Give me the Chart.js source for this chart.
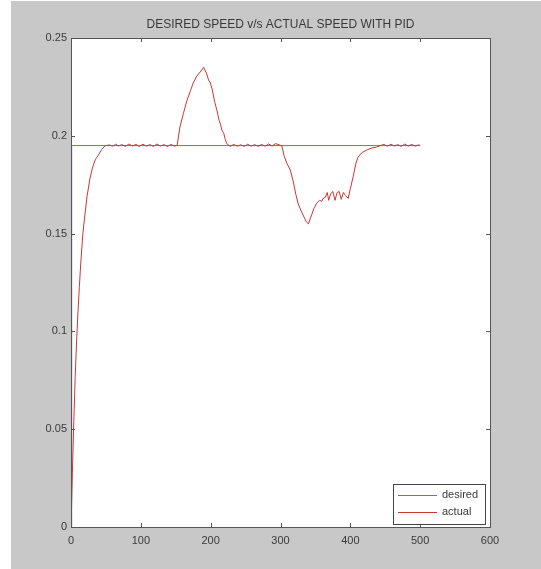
<!DOCTYPE html>
<html>
<head>
<meta charset="utf-8">
<script src="https://cdn.jsdelivr.net/npm/chart.js@4/dist/chart.umd.min.js"></script>
<style>
  html, body { margin: 0; padding: 0; background: #fff; }
  #wrap { width: 541px; height: 569px; }
</style>
</head>
<body>
<div id="wrap"><canvas id="speedChart" width="541" height="569"></canvas></div>
<script>
// axis ticks
const xTicks = [0, 100, 200, 300, 400, 500, 600];
const yTicks = [0, 0.05, 0.1, 0.15, 0.2, 0.25];
const chartTitle = 'DESIRED SPEED v/s ACTUAL SPEED WITH PID';

// desired speed (step)
const desiredT = [0, 1, 500];
const desiredV = [0, 0.195, 0.195];

// actual speed
const actualT = [
  0, 2, 4, 6, 8, 10, 12, 14, 17, 20, 23, 27, 31, 35, 39, 44, 49,
  55, 60, 64, 68, 73, 78, 83, 88, 93, 98, 103, 108, 113, 118, 123, 128, 133, 138, 143, 148, 152,
  156, 161, 166, 171, 175, 180, 185, 190, 194, 197, 199, 202, 206, 209, 212, 214, 216, 219, 221, 223,
  228, 233, 238, 243, 248, 253, 258, 263, 268, 273, 278, 283, 288, 293, 298, 302,
  305, 309, 314, 318, 322, 325, 329, 333, 337, 340, 344, 348, 352, 356, 359, 361, 364, 367, 369,
  372, 375, 378, 381, 384, 387, 390, 393, 397,
  400, 404, 408, 411, 414, 418, 424, 431, 437, 443, 448, 453, 458, 463, 468, 473, 478, 483, 488, 493, 498, 500
];
const actualV = [
  0, 0.028, 0.054, 0.077, 0.095, 0.11, 0.123, 0.135, 0.15, 0.16, 0.169, 0.178, 0.184, 0.188, 0.19, 0.193, 0.195,
  0.1953, 0.1947, 0.1957, 0.1948, 0.1955, 0.1946, 0.1958, 0.1948, 0.1956, 0.1946, 0.1957, 0.1947, 0.1955, 0.1946, 0.1958, 0.1948, 0.1955, 0.1946, 0.1956, 0.1947, 0.1952,
  0.2045, 0.2115, 0.218, 0.223, 0.227, 0.2305, 0.2326, 0.235, 0.232, 0.2285, 0.2275, 0.224, 0.217, 0.213, 0.208, 0.206, 0.203, 0.201, 0.198, 0.196,
  0.1946, 0.1956, 0.1947, 0.1954, 0.1946, 0.1957, 0.1947, 0.1955, 0.1946, 0.1956, 0.1947, 0.1958, 0.1948, 0.196, 0.1954, 0.1948,
  0.19, 0.186, 0.1825, 0.177, 0.17, 0.1656, 0.162, 0.159, 0.156, 0.155, 0.159, 0.163, 0.1656, 0.167, 0.1665, 0.168, 0.1685, 0.171, 0.167,
  0.1705, 0.1715, 0.167, 0.171, 0.1715, 0.1675, 0.171, 0.1695, 0.168,
  0.173, 0.179, 0.186, 0.189, 0.1905, 0.1917, 0.1928, 0.1938, 0.1942, 0.195, 0.1956, 0.1947, 0.1957, 0.1948, 0.1955, 0.1946, 0.1958, 0.1948, 0.1956, 0.1947, 0.1954, 0.195
];

const toPoints = (ts, vs) => ts.map((t, i) => ({ x: t, y: vs[i] }));
const FONT = '"Liberation Sans", Arial, sans-serif';

// figure background, white axes box, title, inward ticks and boxed legend (matlab look)
const matlabLook = {
  id: 'matlabLook',
  beforeDraw(chart) {
    const ctx = chart.ctx;
    const a = chart.chartArea;
    ctx.save();
    ctx.fillStyle = '#ffffff';
    ctx.fillRect(0, 0, chart.width, chart.height);
    ctx.fillStyle = '#c8c8c8';
    ctx.fillRect(11, 1, chart.width - 11, chart.height - 1);
    ctx.fillStyle = '#ffffff';
    ctx.fillRect(a.left, a.top, a.right - a.left, a.bottom - a.top);
    ctx.restore();
  },
  afterDraw(chart) {
    const ctx = chart.ctx;
    const a = chart.chartArea;
    const xs = chart.scales.x, ys = chart.scales.y;
    ctx.save();

    // title centred over the axes
    ctx.fillStyle = '#3a3a3a';
    ctx.font = '12px ' + FONT;
    ctx.textAlign = 'center';
    ctx.textBaseline = 'middle';
    ctx.fillText(chartTitle, (a.left + a.right) / 2, 25);

    ctx.strokeStyle = '#555';
    ctx.lineWidth = 1;
    ctx.strokeRect(a.left + 0.5, a.top + 0.5, a.right - a.left, a.bottom - a.top);
    ctx.beginPath();
    xTicks.forEach(v => {
      const px = Math.round(xs.getPixelForValue(v)) + 0.5;
      ctx.moveTo(px, a.bottom); ctx.lineTo(px, a.bottom - 4);
      ctx.moveTo(px, a.top); ctx.lineTo(px, a.top + 4);
    });
    yTicks.forEach(v => {
      const py = Math.round(ys.getPixelForValue(v)) + 0.5;
      ctx.moveTo(a.left, py); ctx.lineTo(a.left + 4, py);
      ctx.moveTo(a.right, py); ctx.lineTo(a.right - 4, py);
    });
    ctx.stroke();

    // legend box
    const bx = 393, by = 484, bw = 92, bh = 40;
    ctx.fillStyle = '#fff';
    ctx.fillRect(bx, by, bw, bh);
    ctx.strokeStyle = '#444';
    ctx.strokeRect(bx + 0.5, by + 0.5, bw, bh);
    ctx.font = '11px ' + FONT;
    ctx.textAlign = 'left';
    ctx.textBaseline = 'middle';
    chart.data.datasets.forEach((ds, i) => {
      const ly = by + 11 + i * 17;
      ctx.strokeStyle = ds.borderColor;
      ctx.beginPath();
      ctx.moveTo(bx + 5, ly + 0.5);
      ctx.lineTo(bx + 44, ly + 0.5);
      ctx.stroke();
      ctx.fillStyle = '#3a3a3a';
      ctx.fillText(ds.label, bx + 49, ly);
    });
    ctx.restore();
  }
};

new Chart(document.getElementById('speedChart').getContext('2d'), {
  type: 'line',
  data: {
    datasets: [{
      label: 'desired',
      data: toPoints(desiredT, desiredV),
      borderColor: 'rgb(110,110,190)',
      borderWidth: 1,
      pointRadius: 0,
      tension: 0,
      order: 2
    }, {
      label: 'actual',
      data: toPoints(actualT, actualV),
      borderColor: 'rgb(200,55,55)',
      borderWidth: 1,
      pointRadius: 0,
      tension: 0,
      order: 1
    }]
  },
  options: {
    responsive: false,
    animation: false,
    layout: { padding: { left: 0, right: 51, top: 38, bottom: 0 } },
    plugins: {
      legend: { display: false },
      tooltip: { enabled: false },
      title: { display: false }
    },
    scales: {
      x: {
        type: 'linear',
        min: 0,
        max: 600,
        afterBuildTicks: s => { s.ticks = xTicks.map(v => ({ value: v })); },
        afterFit: s => { s.height = 42; },
        grid: { display: false, drawTicks: false },
        border: { display: false },
        ticks: {
          padding: 7,
          color: '#3a3a3a',
          maxRotation: 0,
          font: { family: FONT, size: 11 },
          callback: v => String(v)
        }
      },
      y: {
        min: 0,
        max: 0.25,
        afterBuildTicks: s => { s.ticks = yTicks.map(v => ({ value: v })); },
        afterFit: s => { s.width = 71; },
        grid: { display: false, drawTicks: false },
        border: { display: false },
        ticks: {
          padding: 4,
          color: '#3a3a3a',
          font: { family: FONT, size: 11 },
          callback: v => String(v)
        }
      }
    }
  },
  plugins: [matlabLook]
});
</script>
</body>
</html>
